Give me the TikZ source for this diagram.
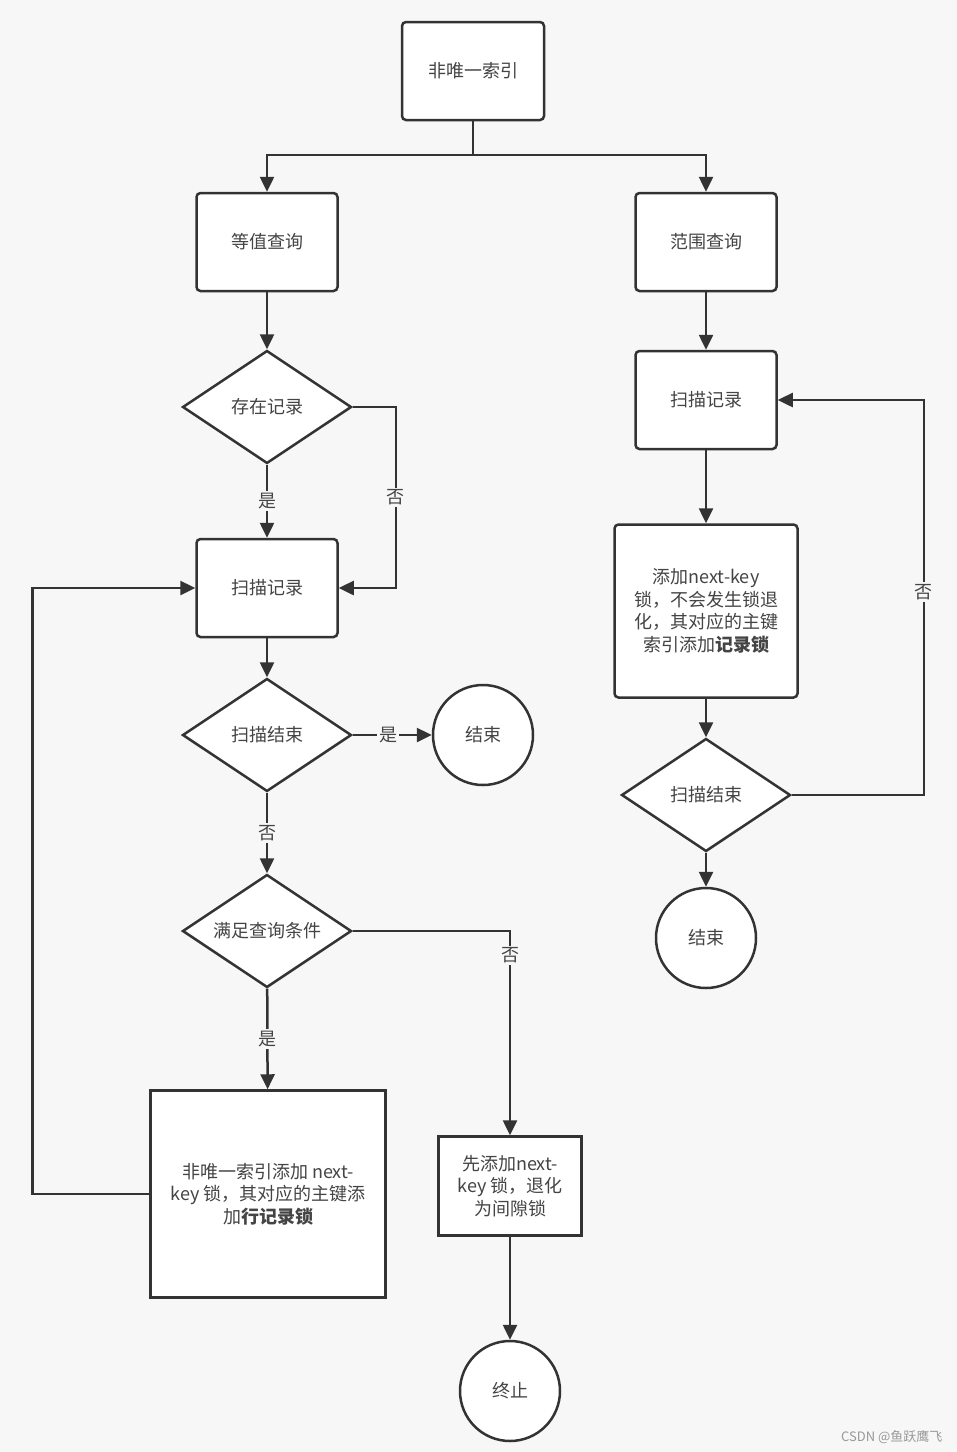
\documentclass[tikz,border=0pt]{standalone}
\usepackage{fontspec}
\setmainfont{Noto Sans CJK SC}
\usetikzlibrary{shapes.geometric,arrows.meta}
\definecolor{bgc}{HTML}{F7F7F7}
\definecolor{ink}{HTML}{333333}
\definecolor{txt}{HTML}{444444}
\tikzset{
  box/.style={draw=ink, line width=2.5pt, fill=white, rounded corners=4pt, minimum width=141pt, minimum height=98pt, inner sep=0pt, text=txt, font=\fontsize{18}{22.5}\selectfont, align=center},
  sbox/.style={draw=ink, line width=2.5pt, fill=white, inner sep=0pt, text=txt, font=\fontsize{18}{22.5}\selectfont, align=center},
  dec/.style={draw=ink, line width=2.5pt, fill=white, diamond, aspect=1.5, inner sep=0pt, minimum width=169pt, minimum height=113pt, text=txt, font=\fontsize{18}{22.5}\selectfont},
  term/.style={draw=ink, line width=2.5pt, fill=white, circle, minimum size=100pt, inner sep=0pt, text=txt, font=\fontsize{18}{22.5}\selectfont},
  conn/.style={draw=ink, line width=2.5pt},
  arr/.style={conn, -{Triangle[length=15pt,width=14pt]}},
  lbl/.style={fill=bgc, inner sep=2pt, text=txt, font=\fontsize{18}{22.5}\selectfont},
}
\begin{document}
\begin{tikzpicture}[x=1pt,y=-1pt]
\fill[bgc] (0,0) rectangle (957,1452);
\useasboundingbox (0,0) rectangle (957,1452);

% nodes
\node[box, minimum width=142pt] (top) at (473,71) {非唯一索引};
\node[box] (eq) at (267,242) {等值查询};
\node[box] (rng) at (706,242) {范围查询};
\node[dec] (d1) at (267,407) {存在记录};
\node[box] (scan1) at (267,588) {扫描记录};
\node[dec] (d2) at (267,735) {扫描结束};
\node[term] (end1) at (483,735) {结束};
\node[dec] (d3) at (267,931) {满足查询条件};
\node[sbox, minimum width=235pt, minimum height=207pt] (big) at (268,1194) {非唯一索引添加 next-\\key 锁，其对应的主键添\\加\textbf{行记录锁}};
\node[sbox, minimum width=143pt, minimum height=99pt] (gap) at (510,1186) {先添加next-\\key 锁，退化\\为间隙锁};
\node[term] (stop) at (510,1391) {终止};

\node[box] (scan2) at (706,400) {扫描记录};
\node[box, minimum width=183pt, minimum height=173pt] (nk) at (706,611) {添加next-key\\锁，不会发生锁退\\化，其对应的主键\\索引添加\textbf{记录锁}};
\node[dec] (d4) at (706,795) {扫描结束};
\node[term] (end2) at (706,938) {结束};

\node[text=gray!80, font=\fontsize{13}{15}\selectfont, anchor=east] (wm) at (946,1437) {CSDN @鱼跃鹰飞};

% connectors
\coordinate (split) at (473,155);
\draw[conn] (top) -- (split);
\draw[arr] (split) -| (eq);
\draw[arr] (split) -| (rng);
\draw[arr] (eq) -- (d1);
\draw[arr] (d1) -- node[lbl]{是} (scan1);
\draw[arr] (d1.east) -- ++(43,0) |- node[lbl, pos=0.25]{否} (scan1.east);
\draw[arr] (scan1) -- (d2);
\draw[arr] (d2) -- node[lbl, pos=0.45]{是} (end1);
\draw[arr] (d2) -- node[lbl]{否} (d3);
\draw[arr] (d3) -- node[lbl]{是} (big);
\draw[arr] (d3.east) -| node[lbl, pos=0.56]{否} (gap);
\draw[arr] (gap) -- (stop);
\draw[arr] (big.west) -- ++(-117,0) |- (scan1.west);

\draw[arr] (rng) -- (scan2);
\draw[arr] (scan2) -- (nk);
\draw[arr] (nk) -- (d4);
\draw[arr] (d4) -- (end2);
\draw[arr] (d4.east) -- ++(132,0) |- node[lbl, pos=0.257]{否} (scan2.east);
\end{tikzpicture}
\end{document}
